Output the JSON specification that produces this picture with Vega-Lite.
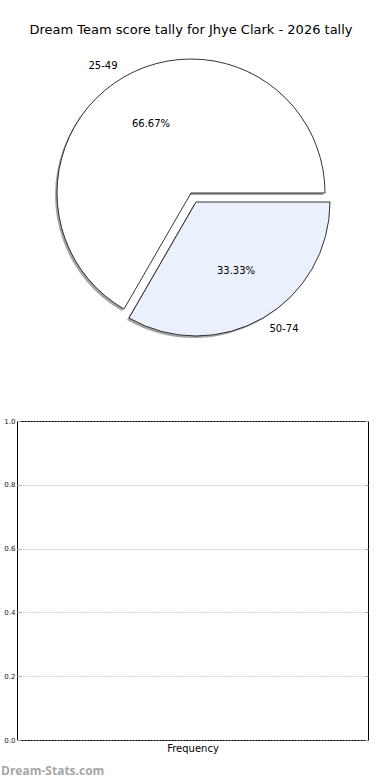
{
  "$schema": "https://vega.github.io/schema/vega-lite/v6.json",
  "padding": {"left": 0, "top": 24, "right": 0, "bottom": 0},
  "background": "white",
  "config": {"font": "DejaVu Sans"},
  "spacing": 74,
  "vconcat": [
    {
      "width": 348,
      "height": 298,
      "view": {"stroke": null},
      "title": {"text": "Dream Team score tally for Jhye Clark - 2026 tally", "fontSize": 13, "fontWeight": "normal", "color": "#000", "offset": 7, "anchor": "middle"},
      "data": {"values": [
        {"range": "25-49", "count": 2, "pct": "66.67%"},
        {"range": "50-74", "count": 1, "pct": "33.33%"}
      ]},
      "encoding": {
        "theta": {"field": "count", "type": "quantitative", "stack": true, "scale": {"range": [3.6652, 9.9484]}},
        "order": {"field": "range", "sort": "ascending"},
        "detail": {"field": "range"}
      },
      "layer": [
        {"mark": {"type": "arc", "radius": 134, "fill": "#4d4d4d", "fillOpacity": 0.5,
          "xOffset": {"expr": "datum.range === '50-74' ? 3 : -2"},
          "yOffset": {"expr": "datum.range === '50-74' ? 11 : 2"}}},
        {"mark": {"type": "arc", "radius": 134, "stroke": "#000", "strokeWidth": 0.8,
          "xOffset": {"expr": "datum.range === '50-74' ? 5 : 0"},
          "yOffset": {"expr": "datum.range === '50-74' ? 9 : 0"}},
         "encoding": {"color": {"field": "range", "type": "nominal", "scale": {"domain": ["25-49", "50-74"], "range": ["#ffffff", "#ebf0fd"]}, "legend": null}}},
        {"mark": {"type": "text", "radius": 147, "fontSize": 10, "baseline": "middle", "color": "#000",
          "align": {"expr": "datum.range === '50-74' ? 'left' : 'right'"},
          "xOffset": {"expr": "datum.range === '50-74' ? 5 : 0"},
          "yOffset": {"expr": "datum.range === '50-74' ? 9 : 0"}},
         "encoding": {"text": {"field": "range"}}},
        {"mark": {"type": "text", "radius": 80, "fontSize": 10, "baseline": "middle", "align": "center", "color": "#000",
          "xOffset": {"expr": "datum.range === '50-74' ? 5 : 0"},
          "yOffset": {"expr": "datum.range === '50-74' ? 9 : 0"}},
         "encoding": {"text": {"field": "pct"}}}
      ]
    },
    {
      "width": 351,
      "height": 319,
      "view": {"stroke": "#000", "strokeWidth": 1},
      "data": {"values": []},
      "title": {"text": "Dream-Stats.com", "orient": "bottom", "anchor": "start", "frame": "bounds", "font": "Open Sans", "fontSize": 12, "fontWeight": "bold", "color": "#a6a6a6", "offset": 13},
      "encoding": {
        "x": {"field": "bin", "type": "quantitative", "scale": {"domain": [0, 1]},
          "axis": {"labels": false, "ticks": false, "grid": false, "domain": false, "title": "Frequency", "titleFontSize": 10, "titleFontWeight": "normal", "titleColor": "#000", "titlePadding": 3}},
        "y": {"field": "frequency", "type": "quantitative", "scale": {"domain": [0, 1]}}
      },
      "layer": [
        {"mark": "bar",
         "encoding": {"y": {"field": "frequency", "type": "quantitative", "scale": {"domain": [0, 1]},
          "axis": {"values": [0, 0.2, 0.4, 0.6, 0.8, 1], "format": ".1f", "labelFontSize": 7, "tickSize": -3, "labelPadding": 5, "tickColor": "#aaaaaa", "domain": false, "gridDash": [1, 2], "gridColor": "#a0a0a0", "gridOpacity": 1, "title": null, "labelColor": "#222", "minExtent": 16, "maxExtent": 16}}}},
        {"mark": "bar",
         "encoding": {"y": {"field": "frequency", "type": "quantitative", "scale": {"domain": [0, 1]},
          "axis": {"orient": "right", "values": [0, 0.2, 0.4, 0.6, 0.8, 1], "labels": false, "tickSize": -3, "tickColor": "#aaaaaa", "domain": false, "grid": false, "title": null}}}}
      ],
      "resolve": {"axis": {"y": "independent"}}
    }
  ]
}
